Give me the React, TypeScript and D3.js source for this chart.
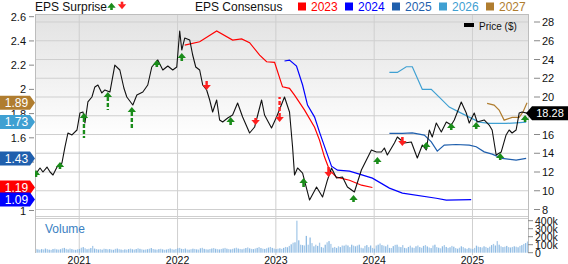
import React from "react";
import * as d3 from "d3";

const W = 568;
const H = 264;
const PLOT = { left: 35, right: 529, top: 14, bottom: 216 };
const VOL = { top: 218, bottom: 253 };
const FONT = '"Liberation Sans", Arial, Helvetica, sans-serif';

// Axis ticks
const yearTicks = [2021, 2022, 2023, 2024, 2025];
const epsTicks = [1, 1.2, 1.4, 1.6, 1.8, 2, 2.2, 2.4, 2.6];
const priceTicks = [8, 10, 12, 14, 16, 18, 20, 22, 24, 26, 28];
const volumeTicks = [0, 100, 200, 300, 400];
const volumeTickLabels = ["0", "100k", "200k", "300k", "400k"];

// Share price, [decimal year, $]
const price: [number, number][] = [
  [2020.55, 11.68], [2020.601, 12.43], [2020.631, 12.0], [2020.672, 12.53], [2020.703, 12.0],
  [2020.733, 11.68], [2020.774, 12.53], [2020.824, 12.96], [2020.855, 14.67], [2020.885, 16.16],
  [2020.926, 15.95], [2020.977, 16.48], [2021.007, 18.29], [2021.038, 18.4], [2021.058, 17.23],
  [2021.088, 19.47], [2021.129, 20.0], [2021.159, 21.07], [2021.19, 21.28], [2021.23, 20.43],
  [2021.261, 20.75], [2021.312, 20.53], [2021.362, 23.41], [2021.413, 22.88], [2021.454, 20.96],
  [2021.484, 20.0], [2021.545, 19.15], [2021.586, 20.21], [2021.647, 20.53], [2021.697, 21.28],
  [2021.738, 23.2], [2021.799, 23.95], [2021.85, 22.88], [2021.901, 23.31], [2021.951, 22.88],
  [2021.992, 23.2], [2022.022, 27.04], [2022.043, 25.01], [2022.073, 26.29], [2022.124, 26.08],
  [2022.154, 24.48], [2022.185, 23.2], [2022.225, 22.88], [2022.256, 21.28], [2022.296, 20.75],
  [2022.327, 19.68], [2022.357, 18.4], [2022.398, 19.68], [2022.428, 17.55], [2022.459, 17.33],
  [2022.51, 17.76], [2022.56, 18.08], [2022.611, 19.36], [2022.662, 17.87], [2022.733, 16.16],
  [2022.784, 16.8], [2022.855, 19.68], [2022.885, 18.08], [2022.956, 16.69], [2023.007, 17.87],
  [2023.088, 20.0], [2023.139, 18.4], [2023.17, 14.67], [2023.19, 11.68], [2023.221, 12.43],
  [2023.272, 11.89], [2023.343, 9.01], [2023.414, 10.4], [2023.475, 9.33], [2023.525, 11.15],
  [2023.566, 12.43], [2023.617, 11.36], [2023.678, 11.47], [2023.728, 10.4], [2023.799, 9.87],
  [2023.87, 12.21], [2023.921, 13.28], [2023.972, 14.35], [2024.023, 14.13], [2024.074, 14.13],
  [2024.104, 14.56], [2024.134, 13.81], [2024.206, 15.09], [2024.236, 15.73], [2024.307, 15.09],
  [2024.378, 15.2], [2024.439, 13.49], [2024.49, 14.88], [2024.53, 14.35], [2024.561, 16.48],
  [2024.591, 15.73], [2024.632, 17.23], [2024.683, 16.27], [2024.734, 17.33], [2024.784, 17.01],
  [2024.815, 17.55], [2024.886, 19.47], [2024.937, 18.29], [2024.967, 17.23], [2025.018, 18.29],
  [2025.048, 17.33], [2025.119, 17.55], [2025.17, 17.01], [2025.2, 16.48], [2025.241, 13.81],
  [2025.292, 14.13], [2025.342, 15.95], [2025.373, 16.48], [2025.403, 16.16], [2025.444, 16.48],
  [2025.475, 18.29], [2025.505, 18.4], [2025.555, 18.28],
];

// EPS consensus by fiscal year, [decimal year, EPS]
const cons2023: [number, number][] = [
  [2022.073, 2.366], [2022.225, 2.393], [2022.398, 2.482], [2022.56, 2.407], [2022.652, 2.416],
  [2022.733, 2.385], [2022.835, 2.283], [2022.906, 2.228], [2022.987, 2.223], [2023.068, 2.021],
  [2023.139, 2.008], [2023.19, 1.953], [2023.292, 1.829], [2023.394, 1.688], [2023.444, 1.581],
  [2023.495, 1.441], [2023.546, 1.333], [2023.617, 1.275], [2023.749, 1.25], [2023.871, 1.209],
  [2023.982, 1.19],
];
const cons2024: [number, number][] = [
  [2023.088, 2.234], [2023.139, 2.242], [2023.21, 2.193], [2023.272, 2.036], [2023.322, 1.87],
  [2023.394, 1.771], [2023.444, 1.647], [2023.515, 1.482], [2023.566, 1.366], [2023.627, 1.333],
  [2023.749, 1.325], [2023.85, 1.3], [2023.982, 1.267], [2024.155, 1.185], [2024.287, 1.143],
  [2024.632, 1.101], [2024.734, 1.085], [2024.987, 1.09],
];
const cons2025: [number, number][] = [
  [2024.155, 1.636], [2024.287, 1.636], [2024.388, 1.641], [2024.51, 1.622], [2024.581, 1.567],
  [2024.642, 1.49], [2024.713, 1.54], [2024.835, 1.545], [2024.967, 1.54], [2025.038, 1.526],
  [2025.119, 1.484], [2025.2, 1.465], [2025.302, 1.43], [2025.444, 1.416], [2025.546, 1.43],
];
const cons2026: [number, number][] = [
  [2024.155, 2.14], [2024.236, 2.14], [2024.327, 2.187], [2024.388, 2.187], [2024.49, 2.0],
  [2024.581, 2.0], [2024.662, 1.936], [2024.764, 1.854], [2024.865, 1.812], [2024.967, 1.771],
  [2025.068, 1.73], [2025.17, 1.719], [2025.342, 1.719], [2025.444, 1.724], [2025.546, 1.73],
];
const cons2027: [number, number][] = [
  [2025.149, 1.884], [2025.22, 1.87], [2025.271, 1.829], [2025.322, 1.746], [2025.403, 1.769],
  [2025.475, 1.769], [2025.515, 1.815], [2025.555, 1.89],
];

const consensusYears = ["2023", "2024", "2025", "2026", "2027"];
const consensusColors = ["#ff0000", "#0000ff", "#1f5fad", "#3fa0d2", "#b07d2f"];
const consensusSeries = [cons2023, cons2024, cons2025, cons2026, cons2027];

// Quarterly EPS surprises: report date, direction, arrow tip and tail on the price axis
const surpriseDates = [
  2020.56, 2020.804, 2021.048, 2021.291, 2021.535, 2021.789, 2022.043, 2022.296, 2022.54, 2022.794,
  2023.038, 2023.282, 2023.536, 2023.79, 2024.033, 2024.287, 2024.53, 2024.784, 2025.038, 2025.282,
  2025.535,
];
const surpriseUp = [
  true, true, true, true, true, true, true, false, true, false,
  false, true, false, true, true, false, true, true, true, true,
  true,
];
const surpriseBig = [
  false, false, true, true, true, false, false, true, false, false,
  true, false, false, false, false, false, false, false, false, false,
  false,
];
const surpriseTip = [
  12.21, 13.07, 18.29, 20.53, 18.93, 23.95, 24.69, 20.75, 17.87, 17.01,
  17.33, 11.36, 11.47, 9.55, 13.6, 14.77, 15.2, 17.23, 17.33, 14.03,
  18.08,
];
const surpriseTail = [
  11.47, 12.32, 15.63, 18.61, 16.48, 23.2, 23.84, 21.81, 17.01, 17.76,
  20.0, 10.4, 12.53, 8.8, 12.85, 15.73, 14.45, 16.48, 16.59, 13.28,
  17.33,
];

// Weekly volume (thousands of shares), starting mid-2020
const volumeStart = 2020.56;
const volume = [
  48, 42, 38, 45, 40, 52, 44, 38, 35, 46, 50, 42, 39, 44, 55, 60, 48, 41, 52, 45, 38, 36, 43,
  47, 62, 70, 55, 44, 49, 58, 85, 52, 46, 40, 44, 38, 50, 47, 42, 45, 39, 36, 48, 52, 44, 40, 35,
  42, 38, 45, 51, 43, 39, 46, 55, 48, 42, 37, 40, 44, 50, 58, 46, 41, 38, 45, 49, 42, 36, 40, 47,
  53, 44, 39, 46,
  55, 60, 48, 45, 52, 40, 38, 44, 50, 47, 42, 39, 55, 61, 48, 43, 40, 46, 52, 58, 49, 44, 41, 47,
  53, 60, 50, 45, 42, 48, 55, 62, 52, 47, 43, 50, 58, 66, 54, 48, 45, 52, 60, 70, 58, 50, 47, 55,
  64, 72, 60, 52,
  45, 50, 55, 48, 60, 72, 68, 85, 105, 125, 130, 400, 155, 100, 95, 90, 210, 100, 190, 120, 80,
  100, 85, 125, 70, 62, 100, 130, 145, 110, 62, 72, 60, 80, 70, 90, 88, 100, 90, 70, 100, 88, 80,
  90, 100, 62, 55, 85, 95, 70, 90, 60,
  50, 90, 100, 115, 95, 88, 80, 100, 60, 58, 82, 98, 100, 75, 70, 95, 60, 55, 72, 88, 65, 60, 80,
  90, 70, 62, 85, 95, 78, 65, 58, 90, 100, 70, 62, 55, 80, 95, 72, 60, 68, 85, 75, 58, 50, 62, 80,
  70, 55, 48, 60, 52,
  45, 60, 88, 75, 70, 65, 80, 72, 60, 75, 95, 110, 90, 145, 100, 80, 70, 75, 85, 70, 65, 72, 80,
  75, 68, 85, 95, 110, 120, 140,
];

const x = d3.scaleLinear().domain([2020.55, 2025.575]).range([PLOT.left, PLOT.right]);
const yPrice = d3.scaleLinear().domain([8, 28]).range([209.5, 22]);
const yEps = d3.scaleLinear().domain([1, 2.6]).range([210.5, 16.7]);
const yVol = d3.scaleLinear().domain([0, 400]).range([252.7, 220.7]);

const GREEN = "#1a8c1a";
const RED = "#ff1f1f";

function Arrow({ cx, tip, tail, up, big, color }: {
  cx: number; tip: number; tail: number; up: boolean; big: boolean; color: string;
}) {
  const dir = up ? 1 : -1;
  const headH = 5;
  const headBase = tip + dir * headH;
  return (
    <g>
      {big ? (
        <line x1={cx} x2={cx} y1={headBase} y2={tail} stroke={color} strokeWidth={2.4}
          strokeDasharray="4,2" />
      ) : (
        <line x1={cx} x2={cx} y1={headBase - dir * 0.5} y2={tail} stroke={color} strokeWidth={2.6} />
      )}
      <path d={`M${cx - 4.2},${headBase}L${cx},${tip}L${cx + 4.2},${headBase}Z`} fill={color} />
    </g>
  );
}

function LeftTag({ y, color, label }: { y: number; color: string; label: string }) {
  const h = 7;
  return (
    <g>
      <path d={`M0,${y - h}H30L35,${y}L30,${y + h}H0Z`} fill={color} />
      <text x={16.5} y={y + 4.2} fill="#fff" fontSize={12} textAnchor="middle" fontFamily={FONT}>
        {label}
      </text>
    </g>
  );
}

export default function App() {
  const priceLine = d3.line<[number, number]>()
    .x((d) => x(d[0]))
    .y((d) => yPrice(d[1]));
  const epsLine = d3.line<[number, number]>()
    .x((d) => x(d[0]))
    .y((d) => yEps(d[1]));

  const lastPrice = price[price.length - 1][1];
  const priceTagY = yPrice(lastPrice);
  const grid = "#cfcfcf";
  const border = "#bdbdbd";

  // Tags drawn in this order so the lowest value sits on top
  const tagOrder = [4, 3, 2, 0, 1];
  const tagYs = consensusSeries.map((s) => yEps(s[s.length - 1][1]));
  // Tick labels that sit right under a value tag are left out
  const epsLabelShown = (t: number) => tagYs.every((ty) => Math.abs(ty - yEps(t)) > 6);
  const priceLabelShown = (t: number) => Math.abs(yPrice(t) - priceTagY) > 6;

  return (
    <svg width={W} height={H} viewBox={`0 0 ${W} ${H}`}
      style={{ position: "absolute", left: 0, top: 0, display: "block" }}
      fontFamily={FONT}>
      <defs>
        <linearGradient id="plotBg" x1="0" y1="0" x2="0" y2="1">
          <stop offset="0%" stopColor="#e2e2e2" />
          <stop offset="62%" stopColor="#ffffff" />
          <stop offset="100%" stopColor="#ffffff" />
        </linearGradient>
        <clipPath id="plotClip">
          <rect x={PLOT.left} y={PLOT.top} width={PLOT.right - PLOT.left}
            height={PLOT.bottom - PLOT.top} />
        </clipPath>
      </defs>
      <rect x={0} y={0} width={W} height={H} fill="#fff" />

      {/* main panel */}
      <rect x={PLOT.left} y={PLOT.top} width={PLOT.right - PLOT.left}
        height={PLOT.bottom - PLOT.top} fill="url(#plotBg)" />
      {priceTicks.map((t) => (
        <line key={`hg${t}`} x1={PLOT.left} x2={PLOT.right} y1={yPrice(t)} y2={yPrice(t)}
          stroke={grid} strokeWidth={1} />
      ))}
      {yearTicks.map((t) => (
        <line key={`vg${t}`} x1={x(t)} x2={x(t)} y1={PLOT.top} y2={VOL.bottom + 2}
          stroke={grid} strokeWidth={1} />
      ))}

      {/* volume panel */}
      {volume.map((v, i) => {
        const cx = x(volumeStart + i / 52);
        return (
          <rect key={`v${i}`} x={cx - 0.65} y={yVol(v)} width={1.3} height={yVol(0) - yVol(v)}
            fill={i % 2 ? "#8fbbe3" : "#a9cbea"} />
        );
      })}
      <text x={45} y={233} fontSize={12} fill="#3a7fc2">Volume</text>

      {/* borders */}
      <line x1={PLOT.left} x2={PLOT.right} y1={PLOT.top + 0.5} y2={PLOT.top + 0.5} stroke={border} />
      <line x1={PLOT.left} x2={PLOT.right} y1={PLOT.bottom + 0.5} y2={PLOT.bottom + 0.5} stroke={grid} />
      <line x1={PLOT.left} x2={PLOT.right} y1={VOL.top + 0.5} y2={VOL.top + 0.5} stroke={grid} />
      <line x1={PLOT.left + 0.5} x2={PLOT.left + 0.5} y1={PLOT.top} y2={VOL.bottom} stroke={border} />
      <line x1={PLOT.right - 0.5} x2={PLOT.right - 0.5} y1={PLOT.top} y2={VOL.bottom} stroke={border} />

      <g clipPath="url(#plotClip)">
        {consensusSeries.map((s, i) => (
          <path key={`c${i}`} d={epsLine(s) || ""} fill="none" stroke={consensusColors[i]}
            strokeWidth={1.2} />
        ))}
        <path d={priceLine(price) || ""} fill="none" stroke="#111" strokeWidth={1.1}
          strokeLinejoin="round" />
        {surpriseDates.map((t, i) => (
          <Arrow key={`a${i}`} cx={x(t)} tip={yPrice(surpriseTip[i])} tail={yPrice(surpriseTail[i])}
            up={surpriseUp[i]} big={surpriseBig[i]} color={surpriseUp[i] ? GREEN : RED} />
        ))}
      </g>

      {/* price legend */}
      <rect x={464} y={23} width={10} height={4} fill="#000" />
      <text x={479} y={30} fontSize={10} fill="#111">Price ($)</text>

      {/* left EPS axis */}
      {epsTicks.map((t) => (
        <g key={`e${t}`}>
          <line x1={29} x2={34} y1={yEps(t)} y2={yEps(t)} stroke="#888" />
          {epsLabelShown(t) && (
            <text x={26} y={yEps(t) + 4} fontSize={11} textAnchor="end" fill="#111">
              {String(+t.toFixed(1))}
            </text>
          )}
        </g>
      ))}

      {/* right price axis */}
      {priceTicks.map((t) => (
        <g key={`p${t}`}>
          <line x1={534} x2={540} y1={yPrice(t)} y2={yPrice(t)} stroke="#888" />
          {priceLabelShown(t) && (
            <text x={542} y={yPrice(t) + 4} fontSize={11} fill="#111">{t}</text>
          )}
        </g>
      ))}

      {/* right volume axis */}
      {volumeTicks.map((t, i) => (
        <g key={`vt${t}`}>
          <line x1={528} x2={533} y1={yVol(t)} y2={yVol(t)} stroke="#888" />
          <text x={535} y={yVol(t) + 3.8} fontSize={10.5} fill="#111">{volumeTickLabels[i]}</text>
        </g>
      ))}

      {/* year labels */}
      {yearTicks.map((t) => (
        <text key={`y${t}`} x={x(t)} y={263.5} fontSize={10.5} textAnchor="middle" fill="#111">
          {t}
        </text>
      ))}

      {/* consensus value tags */}
      {tagOrder.map((i) => {
        const s = consensusSeries[i];
        const v = s[s.length - 1][1];
        return <LeftTag key={`tag${i}`} y={yEps(v)} color={consensusColors[i]} label={v.toFixed(2)} />;
      })}

      {/* last price tag */}
      <path d={`M526,${priceTagY}L532,${priceTagY - 7}H568V${priceTagY + 7}H532Z`} fill="#000" />
      <text x={550} y={priceTagY + 4} fontSize={11} textAnchor="middle" fill="#fff">
        {lastPrice.toFixed(2)}
      </text>

      {/* header legend */}
      <text x={35} y={11} fontSize={12} fill="#111">EPS Surprise</text>
      <Arrow cx={111.5} tip={2.7} tail={10} up={true} big={false} color={GREEN} />
      <Arrow cx={122} tip={9.3} tail={1.7} up={false} big={false} color={RED} />
      <text x={195} y={11} fontSize={12} fill="#111">EPS Consensus</text>
      {consensusYears.map((yr, i) => (
        <g key={`lg${yr}`}>
          <rect x={298 + i * 47} y={2.5} width={8} height={8} fill={consensusColors[i]} />
          <text x={311 + i * 47} y={11} fontSize={12} fill={consensusColors[i]}>{yr}</text>
        </g>
      ))}
    </svg>
  );
}
